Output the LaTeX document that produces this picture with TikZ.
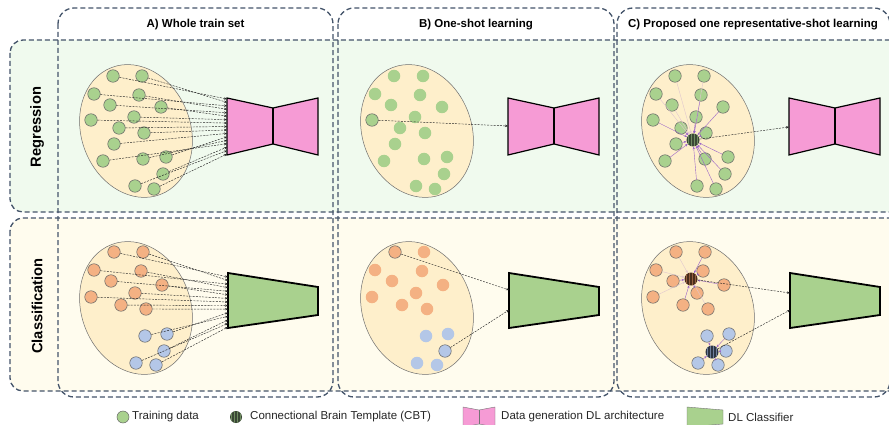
\documentclass[tikz,border=0pt]{standalone}
\usepackage{fontspec}
\setmainfont{Liberation Sans}
\usetikzlibrary{shapes.geometric,arrows.meta,calc}

\definecolor{boxline}{HTML}{44546A}
\definecolor{regfill}{HTML}{F0FAEE}
\definecolor{clsfill}{HTML}{FFFCEE}
\definecolor{cloud}{HTML}{FEEFCB}
\definecolor{cloudline}{HTML}{6E6E6E}
\definecolor{dotgreen}{HTML}{A9D18E}
\definecolor{dotorange}{HTML}{F4B183}
\definecolor{dotblue}{HTML}{B4C7E7}
\definecolor{genpink}{HTML}{F69BD5}
\definecolor{clsgreen}{HTML}{A9D18E}
\definecolor{link}{HTML}{9A62C8}
\definecolor{linkpale}{HTML}{E0C6CF}
\definecolor{cbtgbase}{HTML}{3A4735}
\definecolor{cbtgstripe}{HTML}{6F8C60}
\definecolor{cbtobase}{HTML}{4A2E1C}
\definecolor{cbtostripe}{HTML}{946040}
\definecolor{cbtbbase}{HTML}{2E3644}
\definecolor{cbtbstripe}{HTML}{6F7F9C}

\tikzset{
  rowbox/.style={draw=boxline, line width=1.3pt, dash pattern=on 5pt off 3pt, rounded corners=13pt},
  colbox/.style={rowbox, rounded corners=16pt},
  cloudshape/.style={ellipse, draw=cloudline, line width=0.5pt, fill=cloud,
    minimum width=109pt, minimum height=136pt, rotate=21, inner sep=0},
  dot/.style={circle, inner sep=0, minimum size=12.5pt, draw=black!60, line width=0.5pt},
  gdot/.style={dot, fill=dotgreen},
  odot/.style={dot, fill=dotorange},
  bdot/.style={dot, fill=dotblue},
  gfaint/.style={gdot, draw=none},
  ofaint/.style={odot, draw=none},
  bfaint/.style={bdot, draw=none},
  cbt/.style n args={2}{circle, inner sep=0, minimum size=13pt, fill=#1,
    path picture={\foreach \k in {-4.5,-1.5,1.5,4.5}{
      \fill[#2] ([xshift=\k pt-0.6pt]path picture bounding box.south) rectangle
                ([xshift=\k pt+0.6pt]path picture bounding box.north);}}},
  cbtg/.style={cbt={cbtgbase}{cbtgstripe}},
  cbto/.style={cbt={cbtobase}{cbtostripe}},
  cbtb/.style={cbt={cbtbbase}{cbtbstripe}},
  feed/.style={draw=black!85, line width=0.45pt, dash pattern=on 2pt off 1.2pt,
    -{Stealth[length=3pt,width=2.4pt]}},
  tolink/.style={draw=link, line width=0.4pt, -{Stealth[length=2.6pt,width=2.2pt]}},
  topale/.style={tolink, draw=linkpale},
  gen/.style={draw=black, line width=1.2pt, fill=genpink, line join=miter},
  cls/.style={draw=black, line width=1.8pt, fill=clsgreen, line join=miter},
  head/.style={font=\bfseries\fontsize{11.5}{13}\selectfont},
  rowlbl/.style={font=\bfseries\fontsize{14.7}{16}\selectfont, rotate=90},
  legtxt/.style={font=\fontsize{11.5}{13}\selectfont, text=black!85, anchor=west, inner sep=0},
}

% point sets of one panel (first panel coordinates)
\def\gpts{113/76,142/76,94/94,139/95,110/105,161/107,134/117,91/120,119/128,144/133,114/144,166/157,143/159,103/161,163/174,135/186,154/189}
\def\opts{114/252,143/252,94/270,141/271,111/281,162/285,135/293,91/297,121/305,146/309}
\def\bpts{167/334,145/336,164/351,136/363,156/365}

\begin{document}
\begin{tikzpicture}[x=1pt,y=-1pt]
\useasboundingbox (0,0) rectangle (889,425);
\clip (0,0) rectangle (889,425);
\fill[white] (0,0) rectangle (889,425);

% row frames
\draw[rowbox, fill=regfill] (10,40) rectangle (905,212);
\draw[rowbox, fill=clsfill] (10,218) rectangle (905,391);

% column frames
\draw[colbox] (58,8) rectangle (333,397);
\draw[colbox] (338,8) rectangle (614,397);
\draw[colbox] (617,8) rectangle (890,397);

% headers and row labels
\node[head] (hA) at (195.5,25) {A) Whole train set};
\node[head] (hB) at (476,25) {B) One-shot learning};
\node[head] (hC) at (753,25) {C) Proposed one representative-shot learning};
\node[rowlbl] (lReg) at (37,127) {Regression};
\node[rowlbl] (lCls) at (37,306) {Classification};

% ---------------- A) whole train set ----------------
\begin{scope}
  \node[cloudshape] (aRE) at (136,131) {};
  \foreach \x/\y [count=\i] in \gpts {\node[gdot] (aR\i) at (\x,\y) {};}
  \draw[gen] (227,98) -- (273,108) -- (318,98) -- (318,155) -- (273,144) -- (227,155) -- cycle;
  \draw[black, line width=1.2pt] (273,108) -- (273,144);
  \foreach \i in {1,...,17} {
    \coordinate (aRT\i) at (227,{99+(\i-1)*3.44});
    \draw[feed] (aR\i) -- (aRT\i);
  }

  \node[cloudshape] (aCE) at (136,308) {};
  \foreach \x/\y [count=\i] in \opts {\node[odot] (aCo\i) at (\x,\y) {};}
  \foreach \x/\y [count=\i] in \bpts {\node[bdot] (aCb\i) at (\x,\y) {};}
  \draw[cls] (228,273) -- (318,287) -- (318,315) -- (228,328) -- cycle;
  \foreach \i in {1,...,10} {
    \coordinate (aCT\i) at (228,{277+(\i-1)*3.57});
    \draw[feed] (aCo\i) -- (aCT\i);
  }
  \foreach \i in {1,...,5} {
    \coordinate (aCU\i) at (228,{277+(\i+9)*3.57});
    \draw[feed] (aCb\i) -- (aCU\i);
  }
\end{scope}

% ---------------- B) one-shot learning ----------------
\begin{scope}[xshift=281pt]
  \node[cloudshape] (bRE) at (136,131) {};
  \foreach \x/\y [count=\i] in \gpts {\ifnum\i=8\relax\else\node[gfaint] (bR\i) at (\x,\y) {};\fi}
  \node[gdot] (bRs) at (91,120) {};
  \draw[gen] (227,98) -- (273,108) -- (318,98) -- (318,155) -- (273,144) -- (227,155) -- cycle;
  \draw[black, line width=1.2pt] (273,108) -- (273,144);
  \coordinate (bRT) at (227,126);
  \draw[feed] (bRs) -- (bRT);

  \node[cloudshape] (bCE) at (136,308) {};
  \foreach \x/\y [count=\i] in \opts {\ifnum\i=1\relax\else\node[ofaint] (bCo\i) at (\x,\y) {};\fi}
  \foreach \x/\y [count=\i] in \bpts {\ifnum\i=3\relax\else\node[bfaint] (bCb\i) at (\x,\y) {};\fi}
  \node[odot] (bCos) at (114,252) {};
  \node[bdot] (bCbs) at (164,351) {};
  \draw[cls] (228,273) -- (318,287) -- (318,315) -- (228,328) -- cycle;
  \coordinate (bCT1) at (228,290);
  \coordinate (bCT2) at (228,310);
  \draw[feed] (bCos) -- (bCT1);
  \draw[feed] (bCbs) -- (bCT2);
\end{scope}

% ---------------- C) one representative-shot learning ----------------
\begin{scope}[xshift=562pt]
  \node[cloudshape] (cRE) at (136,131) {};
  \foreach \x/\y [count=\i] in \gpts {\node[gdot] (cR\i) at (\x,\y) {};}
  \node[cbtg] (cRc) at (131,140) {};
  \foreach \i in {1,2,3,5} {\draw[topale] (cR\i) -- (cRc);}
  \foreach \i in {4,6,7,8,9,10,11,12,13,14,15,16,17} {\draw[tolink] (cR\i) -- (cRc);}
  \draw[gen] (227,98) -- (273,108) -- (318,98) -- (318,155) -- (273,144) -- (227,155) -- cycle;
  \draw[black, line width=1.2pt] (273,108) -- (273,144);
  \coordinate (cRT) at (227,127);
  \draw[feed] (cRc) -- (cRT);

  \node[cloudshape] (cCE) at (136,308) {};
  \foreach \x/\y [count=\i] in \opts {\node[odot] (cCo\i) at (\x,\y) {};}
  \foreach \x/\y [count=\i] in \bpts {\node[bdot] (cCb\i) at (\x,\y) {};}
  \node[cbto] (cCoc) at (129,279) {};
  \node[cbtb] (cCbc) at (150,352) {};
  \foreach \i in {1,3,8,10} {\draw[topale] (cCo\i) -- (cCoc);}
  \foreach \i in {2,4,5,6,7,9} {\draw[tolink] (cCo\i) -- (cCoc);}
  \foreach \i in {1,...,5} {\draw[tolink] (cCb\i) -- (cCbc);}
  \draw[cls] (228,273) -- (318,287) -- (318,315) -- (228,328) -- cycle;
  \coordinate (cCT1) at (228,293);
  \coordinate (cCT2) at (228,310);
  \draw[feed] (cCoc) -- (cCT1);
  \draw[feed] (cCbc) -- (cCT2);
\end{scope}

% ---------------- legend ----------------
\node[gdot, minimum size=12pt] (kDot) at (123,417) {};
\node[legtxt] (kDotT) at (132,417) {Training data};
\node[cbtg, minimum size=12pt] (kCbt) at (236,417) {};
\node[legtxt] (kCbtT) at (250,417) {Connectional Brain Template (CBT)};
\draw[fill=genpink, draw=black!55, line width=0.4pt]
  (463,407) -- (479,410) -- (495,407) -- (495,427) -- (479,424) -- (463,427) -- cycle;
\draw[black!55, line width=0.4pt] (479,410) -- (479,424);
\node[legtxt] (kGenT) at (501,417) {Data generation DL architecture};
\draw[fill=clsgreen, draw=black!55, line width=0.4pt]
  (687,407) -- (723,410) -- (723,424) -- (687,427) -- cycle;
\node[legtxt] (kClsT) at (728,417) {DL Classifier};
\end{tikzpicture}
\end{document}
